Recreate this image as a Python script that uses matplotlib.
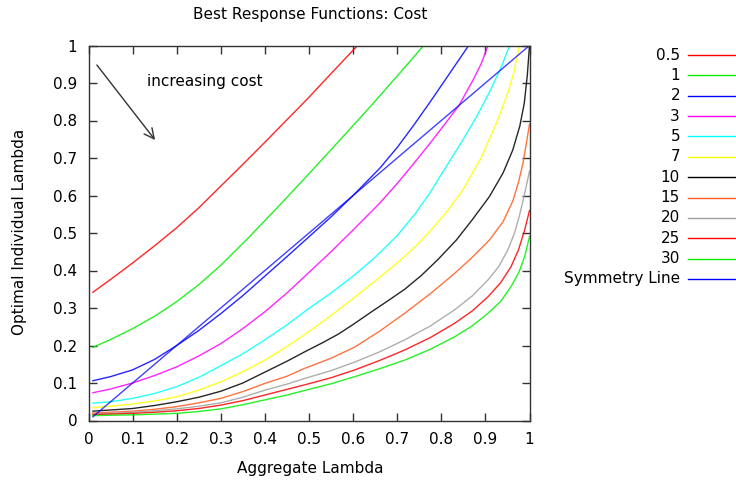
import matplotlib
matplotlib.use("Agg")
import matplotlib.pyplot as plt
from matplotlib.lines import Line2D

# values (aggregate lambda -> optimal individual lambda)
cost_labels = ['0.5', '1', '2', '3', '5', '7', '10', '15', '20', '25', '30']
cost_colors = ['#ff0000', '#00ee00', '#0000ff', '#ff00ff', '#00ffff', '#ffff00',
               '#000000', '#ff5a1e', '#a0a0a0', '#ff0000', '#00ee00']

x_c05 = [0.01, 0.05, 0.1, 0.15, 0.2, 0.25, 0.3, 0.35, 0.4, 0.45, 0.5, 0.55, 0.61]
y_c05 = [0.342, 0.376, 0.42, 0.466, 0.514, 0.567, 0.625, 0.683, 0.742, 0.802, 0.862, 0.925, 1.0]

x_c1 = [0.01, 0.05, 0.1, 0.15, 0.2, 0.25, 0.3, 0.365, 0.43, 0.5, 0.56, 0.626, 0.66, 0.71, 0.76]
y_c1 = [0.195, 0.216, 0.245, 0.278, 0.317, 0.362, 0.414, 0.49, 0.57, 0.658, 0.735, 0.82, 0.865, 0.932, 1.0]

x_c2 = [0.01, 0.05, 0.1, 0.15, 0.2, 0.25, 0.3, 0.35, 0.4, 0.45, 0.5, 0.55, 0.6, 0.66, 0.7,
        0.736, 0.775, 0.811, 0.84, 0.862]
y_c2 = [0.106, 0.117, 0.135, 0.163, 0.2, 0.24, 0.285, 0.333, 0.385, 0.437, 0.49, 0.543, 0.6,
        0.672, 0.728, 0.785, 0.85, 0.912, 0.962, 1.0]

x_c3 = [0.01, 0.05, 0.1, 0.15, 0.2, 0.25, 0.3, 0.35, 0.4, 0.45, 0.5, 0.55, 0.6, 0.66, 0.7,
        0.736, 0.775, 0.811, 0.84, 0.872, 0.89, 0.906]
y_c3 = [0.074, 0.084, 0.1, 0.12, 0.143, 0.172, 0.205, 0.245, 0.29, 0.34, 0.395, 0.45, 0.508,
        0.579, 0.632, 0.683, 0.74, 0.795, 0.84, 0.908, 0.95, 1.0]

x_c5 = [0.01, 0.05, 0.1, 0.15, 0.2, 0.25, 0.3, 0.35, 0.4, 0.45, 0.5, 0.55, 0.6, 0.65, 0.7,
        0.74, 0.773, 0.81, 0.849, 0.88, 0.909, 0.935, 0.955]
y_c5 = [0.046, 0.05, 0.059, 0.072, 0.09, 0.115, 0.146, 0.178, 0.215, 0.255, 0.299, 0.34, 0.385,
        0.435, 0.493, 0.55, 0.605, 0.675, 0.748, 0.81, 0.875, 0.94, 1.0]

x_c7 = [0.01, 0.05, 0.1, 0.15, 0.2, 0.25, 0.3, 0.35, 0.4, 0.45, 0.5, 0.55, 0.6, 0.65, 0.7,
        0.74, 0.777, 0.815, 0.849, 0.89, 0.925, 0.95, 0.965, 0.977]
y_c7 = [0.034, 0.038, 0.044, 0.052, 0.063, 0.081, 0.103, 0.13, 0.161, 0.197, 0.237, 0.28, 0.325,
        0.372, 0.42, 0.462, 0.508, 0.56, 0.615, 0.7, 0.793, 0.87, 0.93, 1.0]

x_c10 = [0.01, 0.05, 0.1, 0.15, 0.2, 0.25, 0.3, 0.35, 0.4, 0.45, 0.49, 0.53, 0.566, 0.6, 0.642,
         0.68, 0.717, 0.755, 0.793, 0.834, 0.87, 0.909, 0.94, 0.962, 0.978, 0.988, 0.995, 1.0]
y_c10 = [0.025, 0.028, 0.032, 0.04, 0.05, 0.062, 0.078, 0.1, 0.129, 0.158, 0.183, 0.207, 0.23,
         0.256, 0.29, 0.32, 0.35, 0.387, 0.43, 0.481, 0.535, 0.597, 0.66, 0.721, 0.785, 0.845,
         0.92, 1.0]

x_c15 = [0.01, 0.05, 0.1, 0.15, 0.2, 0.25, 0.3, 0.35, 0.4, 0.45, 0.49, 0.55, 0.604, 0.66, 0.717,
         0.775, 0.83, 0.87, 0.909, 0.94, 0.962, 0.975, 0.985, 0.993, 1.0]
y_c15 = [0.02, 0.022, 0.025, 0.03, 0.037, 0.047, 0.059, 0.077, 0.099, 0.118, 0.139, 0.166, 0.196,
         0.238, 0.286, 0.338, 0.392, 0.435, 0.481, 0.53, 0.585, 0.635, 0.685, 0.74, 0.79]

x_c20 = [0.01, 0.05, 0.1, 0.15, 0.2, 0.25, 0.3, 0.35, 0.4, 0.45, 0.49, 0.55, 0.604, 0.66, 0.717,
         0.775, 0.83, 0.87, 0.906, 0.93, 0.951, 0.966, 0.978, 0.988, 1.0]
y_c20 = [0.017, 0.019, 0.022, 0.026, 0.031, 0.038, 0.047, 0.062, 0.081, 0.097, 0.112, 0.133, 0.156,
         0.183, 0.215, 0.252, 0.295, 0.332, 0.375, 0.41, 0.455, 0.5, 0.55, 0.6, 0.665]

x_c25 = [0.01, 0.05, 0.1, 0.15, 0.2, 0.25, 0.3, 0.35, 0.4, 0.45, 0.49, 0.55, 0.604, 0.66, 0.717,
         0.775, 0.83, 0.87, 0.906, 0.935, 0.958, 0.975, 0.989, 1.0]
y_c25 = [0.016, 0.017, 0.019, 0.022, 0.026, 0.032, 0.041, 0.053, 0.068, 0.083, 0.095, 0.114, 0.135,
         0.16, 0.188, 0.221, 0.259, 0.292, 0.33, 0.368, 0.41, 0.455, 0.508, 0.56]

x_c30 = [0.01, 0.05, 0.1, 0.15, 0.2, 0.25, 0.3, 0.35, 0.4, 0.45, 0.49, 0.55, 0.604, 0.66, 0.717,
         0.775, 0.83, 0.87, 0.906, 0.935, 0.958, 0.976, 0.989, 1.0]
y_c30 = [0.013, 0.014, 0.015, 0.017, 0.019, 0.024, 0.031, 0.042, 0.055, 0.068, 0.08, 0.098, 0.117,
         0.138, 0.161, 0.19, 0.223, 0.252, 0.286, 0.318, 0.357, 0.395, 0.437, 0.49]

x_sym = [0.01, 1.0]
y_sym = [0.01, 1.0]

curves = [(x_c05, y_c05), (x_c1, y_c1), (x_c2, y_c2), (x_c3, y_c3), (x_c5, y_c5),
          (x_c7, y_c7), (x_c10, y_c10), (x_c15, y_c15), (x_c20, y_c20),
          (x_c25, y_c25), (x_c30, y_c30)]

plt.rcParams['font.family'] = 'DejaVu Sans'
plt.rcParams['font.size'] = 11

W, H = 736, 483
fig = plt.figure(figsize=(W / 100, H / 100), dpi=100)
ax = fig.add_axes([88.5 / W, 1 - 420.5 / H, 441 / W, 375 / H])

for (xs, ys), col in zip(curves, cost_colors):
    ax.plot(xs, ys, color=col, lw=1.0, alpha=0.85)
ax.plot(x_sym, y_sym, color='#0000ff', lw=1.0, alpha=0.75)

ax.set_xlim(0, 1)
ax.set_ylim(0, 1)
ticks = [0, 0.1, 0.2, 0.3, 0.4, 0.5, 0.6, 0.7, 0.8, 0.9, 1]
tick_labels = ['0', '0.1', '0.2', '0.3', '0.4', '0.5', '0.6', '0.7', '0.8', '0.9', '1']
ax.set_xticks(ticks)
ax.set_xticklabels(tick_labels)
ax.set_yticks(ticks)
ax.set_yticklabels(tick_labels)
ax.tick_params(direction='in', length=6, width=1, top=True, right=True,
               color='#333333', labelsize=11)
ax.tick_params(axis='x', pad=8)
ax.tick_params(axis='y', pad=8)
for sp in ax.spines.values():
    sp.set_color('#333333')
    sp.set_linewidth(1.0)

# annotation arrow and text
ax.annotate('', xy=(0.151, 0.748), xytext=(0.019, 0.948),
            arrowprops=dict(arrowstyle='->', color='#333333', lw=1.0,
                            mutation_scale=18, shrinkA=0, shrinkB=0))
ax.text(0.1325, 0.903, 'increasing cost', ha='left', va='center', fontsize=11)

fig.text(310 / W, 1 - 15 / H, 'Best Response Functions: Cost', ha='center', va='center', fontsize=11)
fig.text(310 / W, 1 - 468 / H, 'Aggregate Lambda', ha='center', va='center', fontsize=11)
fig.text(20 / W, 1 - 232 / H, 'Optimal Individual Lambda', ha='center', va='center',
         rotation=90, fontsize=11)

# legend drawn by hand, gnuplot style: text then line sample
legend_labels = cost_labels + ['Symmetry Line']
legend_colors = cost_colors + ['#0000ff']
for i, (lab, col) in enumerate(zip(legend_labels, legend_colors)):
    yy = 1 - (55 + i * 20.36) / H
    fig.text(680 / W, yy, lab, ha='right', va='center', fontsize=11)
    fig.add_artist(Line2D([688 / W, 1.0], [yy, yy], color=col, lw=1.0,
                          transform=fig.transFigure))

fig.savefig('out.png', dpi=100)
